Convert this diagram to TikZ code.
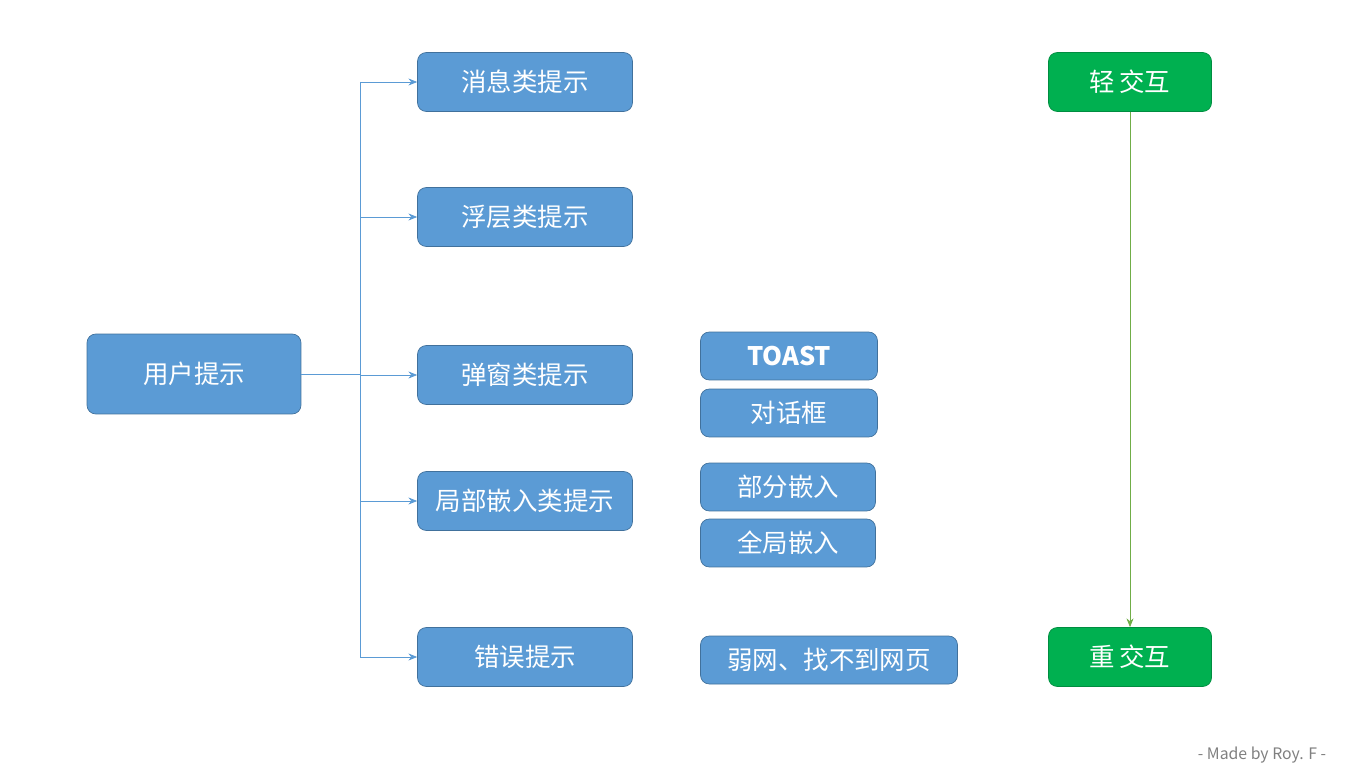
\documentclass[tikz,border=0pt]{standalone}
\usepackage{fontspec}
\setmainfont{Noto Sans CJK SC}
\usetikzlibrary{arrows.meta}
\definecolor{boxblue}{HTML}{5B9BD5}
\definecolor{boxline}{HTML}{41719C}
\definecolor{boxgreen}{HTML}{00B050}
\definecolor{linkblue}{HTML}{5B9BD5}
\definecolor{linkgreen}{HTML}{70AD47}

\begin{document}
\begin{tikzpicture}[%
            x=0.02cm,
            y=-0.02cm,
            >={Stealth[length=5pt,width=4pt]},
            ]
    \tikzset{tip/.style = {draw=boxline, fill=boxblue, rounded corners=5pt, text=white,
            font=\fontsize{14.5}{16}\selectfont, inner sep=0pt}}
    \tikzset{big/.style = {tip, minimum width=4.3cm, minimum height=1.18cm}}
    \tikzset{small/.style = {tip, minimum height=0.96cm}}
    \tikzset{mode/.style = {tip, draw=boxgreen!80!black, fill=boxgreen, minimum width=3.26cm, minimum height=1.18cm}}
    \tikzset{link/.style = {->, draw=linkblue, thin}}

    \useasboundingbox (0,0) rectangle (1364,776);

    % Main boxes
    \node[tip, minimum width=4.28cm, minimum height=1.6cm] (user) at (194,374) {用户提示};
    \node[big] (msg) at (525,82) {消息类提示};
    \node[big] (float) at (525,217) {浮层类提示};
    \node[big] (popup) at (525,375) {弹窗类提示};
    \node[big] (embed) at (525,501) {局部嵌入类提示};
    \node[big] (error) at (525,657) {错误提示};

    % Sub boxes
    \node[small, minimum width=3.54cm] (toast) at (789,356) {\textbf{TOAST}};
    \node[small, minimum width=3.54cm] (dialog) at (789,413) {对话框};
    \node[small, minimum width=3.5cm] (part) at (788,487) {部分嵌入};
    \node[small, minimum width=3.5cm] (whole) at (788,543) {全局嵌入};
    \node[small, minimum width=5.14cm] (net) at (829,660) {弱网、找不到网页};

    % Interaction level
    \node[mode] (light) at (1130,82) {轻\,交互};
    \node[mode] (heavy) at (1130,657) {重\,交互};
    \draw[->, draw=linkgreen] (light) -- (heavy);

    % Tree
    \coordinate (trunk) at (360,374);
    \draw[draw=linkblue] (user.east) -- (trunk);
    \draw[draw=linkblue] (360,82) -- (360,657);
    \foreach \n in {msg, float, popup, embed, error}
        \draw[link] (\n.west -| trunk) -- (\n.west);

    \node[text=gray, font=\fontsize{9}{10}\selectfont] (credit) at (1262,755) {- Made by Roy. F -};
\end{tikzpicture}
\end{document}
